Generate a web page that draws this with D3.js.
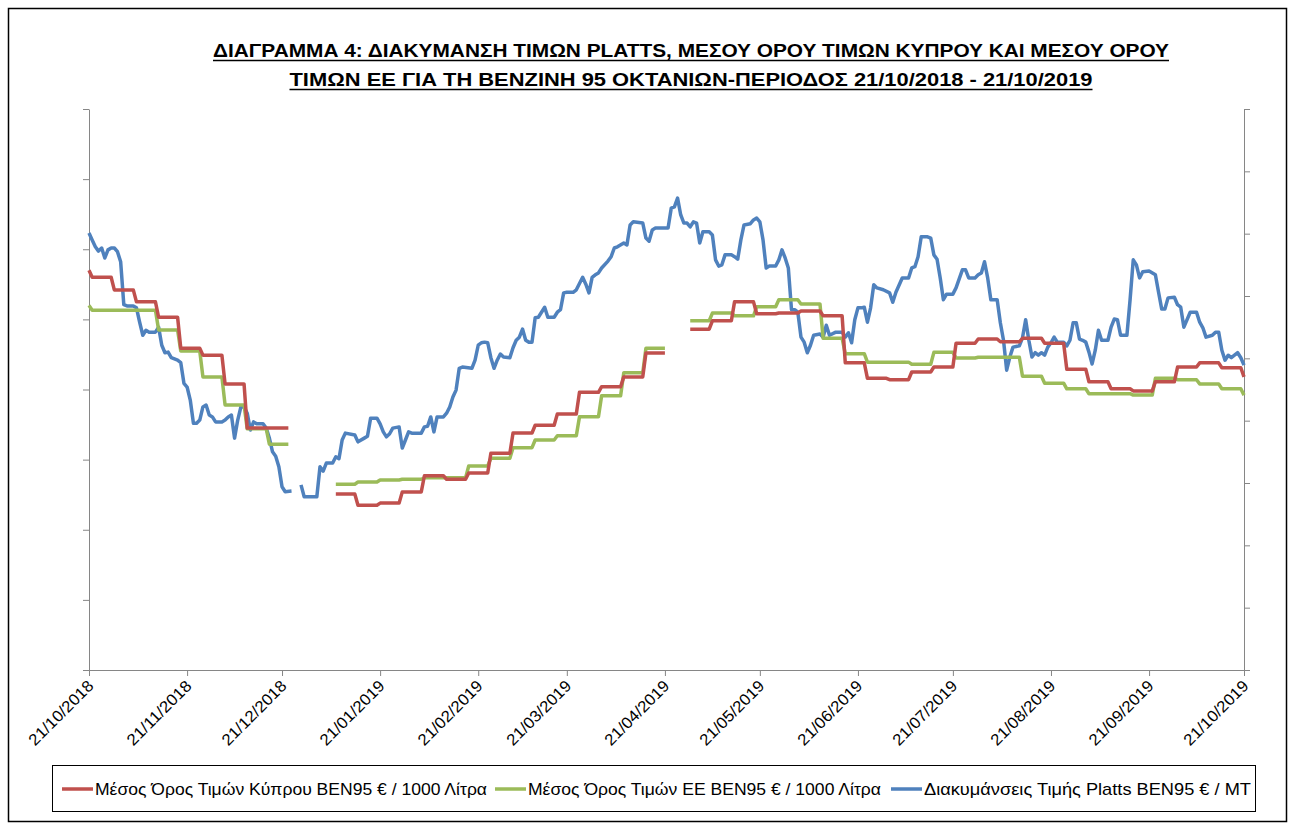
<!DOCTYPE html>
<html><head><meta charset="utf-8">
<script src="https://cdn.jsdelivr.net/npm/d3@7"></script>
<style>
body{margin:0;background:#fff;}
svg{display:block;font-family:"Liberation Sans",Arial,sans-serif;}
</style></head><body>
<svg id="chart" width="1291" height="827"></svg>
<script>
// ---------- DATA ----------
const titleLines = [
  "ΔΙΑΓΡΑΜΜΑ 4: ΔΙΑΚΥΜΑΝΣΗ ΤΙΜΩΝ PLATTS, ΜΕΣΟΥ ΟΡΟΥ ΤΙΜΩΝ ΚΥΠΡΟΥ ΚΑΙ ΜΕΣΟΥ ΟΡΟΥ",
  "ΤΙΜΩΝ ΕΕ ΓΙΑ ΤΗ ΒΕΝΖΙΝΗ 95 ΟΚΤΑΝΙΩΝ-ΠΕΡΙΟΔΟΣ 21/10/2018 - 21/10/2019"
];
const xTickDates = ["2018-10-21","2018-11-21","2018-12-21","2019-01-21","2019-02-21","2019-03-21",
  "2019-04-21","2019-05-21","2019-06-21","2019-07-21","2019-08-21","2019-09-21","2019-10-21"];
const leftTicks = [200,300,400,500,600,700,800,900,1000];
const rightTicks = [0,100,200,300,400,500,600,700,800,900];
const seriesNames = [
  "Μέσος Όρος Τιμών Κύπρου ΒΕΝ95 € / 1000 Λίτρα",
  "Μέσος Όρος Τιμών ΕΕ ΒΕΝ95 € / 1000 Λίτρα",
  "Διακυμάνσεις Τιμής Platts ΒΕΝ95 € / ΜΤ"
];
const seriesColors = ["#C0504D","#9BBB59","#4F81BD"];

// weekly average prices (€/1000 L), week start dates
const weekStarts = ["2018-10-21","2018-10-22","2018-10-29","2018-11-05","2018-11-12","2018-11-19","2018-11-26",
  "2018-12-03","2018-12-10","2018-12-17","2018-12-24","2018-12-31","2019-01-07","2019-01-14","2019-01-21",
  "2019-01-28","2019-02-04","2019-02-11","2019-02-18","2019-02-25","2019-03-04","2019-03-11","2019-03-18",
  "2019-03-25","2019-04-01","2019-04-08","2019-04-15","2019-04-22","2019-04-29","2019-05-06","2019-05-13",
  "2019-05-20","2019-05-27","2019-06-03","2019-06-10","2019-06-17","2019-06-24","2019-07-01","2019-07-08",
  "2019-07-15","2019-07-22","2019-07-29","2019-08-05","2019-08-12","2019-08-19","2019-08-26","2019-09-02",
  "2019-09-09","2019-09-16","2019-09-23","2019-09-30","2019-10-07","2019-10-14","2019-10-21"];
const cyprusAvg = [770,760,742,725,703,659,649,608,545,545,null,null,451,435,438,454,477,472,481,509,538,549,565,
  596,604,618,652,null,686,698,725,708,709,712,705,638,616,614,625,632,666,672,668,673,666,629,611,601,598,611,632,638,631,618];
const euAvg = [720,713,713,713,685,655,618,578,544,522,null,null,465,468,471,472,474,474,491,502,517,528,534,
  561,591,624,659,null,698,709,705,718,728,722,673,651,639,639,636,653,645,646,646,619,609,601,594,594,592,616,614,608,601,592];

// Platts quotes (€/MT): [days since 21/10/2018, price]
const plattsSeries = [[0,701],[1,690],[2,679],[3,672],[4,677],[5,661],[6,674],[7,677],[8,677],[9,671],[10,655],[11,586],[12,584],[14,584],[15,581],[16,558],[17,537],[18,545],[19,542],[21,542],[22,550],[23,521],[24,509],[25,510],[26,501],[28,497],[29,493],[30,460],[31,454],[32,433],[33,396],[34,396],[35,401],[36,422],[37,425],[38,409],[39,406],[40,398],[42,398],[43,401],[44,406],[45,409],[46,372],[47,401],[48,422],[49,422],[50,412],[51,385],[52,398],[53,395],[55,395],[56,388],[57,372],[58,350],[59,343],[60,326],[61,294],[62,286],[64,287],[65,null],[67,297],[68,278],[72,278],[73,326],[74,319],[75,332],[77,332],[78,342],[79,339],[80,369],[81,380],[84,377],[85,366],[87,372],[88,375],[89,404],[91,404],[92,395],[93,382],[94,374],[95,379],[96,388],[98,390],[99,356],[100,369],[101,382],[102,380],[105,380],[106,390],[107,391],[108,406],[109,382],[110,406],[112,406],[113,412],[114,422],[115,438],[116,449],[117,484],[118,486],[121,484],[122,497],[123,521],[124,525],[125,526],[126,525],[127,501],[128,484],[129,497],[130,507],[131,502],[133,501],[134,517],[135,529],[136,534],[137,547],[138,529],[139,526],[140,526],[141,565],[142,566],[143,574],[144,582],[145,566],[147,566],[148,574],[149,578],[150,605],[151,606],[153,606],[154,610],[156,630],[157,619],[158,605],[159,630],[160,634],[161,637],[162,645],[164,656],[165,663],[166,677],[167,679],[169,685],[170,682],[171,714],[172,719],[175,717],[176,693],[177,688],[178,706],[179,709],[183,709],[184,741],[185,743],[186,757],[187,730],[188,717],[189,717],[190,711],[191,719],[192,717],[193,685],[194,703],[196,703],[197,698],[198,658],[199,648],[200,650],[201,666],[203,666],[204,663],[205,659],[206,690],[207,714],[209,716],[210,722],[211,725],[212,719],[213,690],[214,645],[215,648],[217,648],[218,658],[219,674],[220,661],[221,645],[222,578],[223,578],[224,574],[225,534],[226,526],[227,509],[228,521],[229,537],[231,539],[232,534],[233,553],[234,537],[236,542],[238,542],[239,534],[240,541],[241,525],[242,562],[243,581],[244,581],[245,582],[246,558],[247,581],[248,618],[249,613],[251,610],[253,605],[254,590],[255,606],[257,629],[259,629],[260,645],[261,647],[262,663],[263,695],[265,695],[266,693],[267,666],[268,659],[269,629],[270,594],[271,603],[273,603],[274,613],[276,642],[277,642],[278,629],[280,629],[281,634],[282,637],[283,655],[284,629],[285,594],[287,594],[288,557],[289,529],[290,481],[291,502],[292,518],[294,520],[295,533],[296,562],[297,529],[298,502],[299,509],[300,505],[301,509],[302,505],[303,518],[304,525],[305,534],[306,526],[308,526],[309,520],[310,529],[311,557],[312,557],[313,531],[314,529],[315,526],[316,510],[317,491],[318,513],[319,545],[320,529],[322,529],[323,550],[324,563],[325,562],[326,537],[328,537],[329,594],[330,658],[331,650],[332,629],[333,639],[335,640],[337,634],[338,606],[339,579],[340,579],[341,597],[343,598],[344,586],[345,582],[346,550],[348,574],[350,574],[351,558],[352,549],[353,534],[355,537],[356,542],[357,542],[358,513],[359,497],[360,505],[361,501],[362,505],[363,509],[364,501],[365,489]];

// ---------- CHART ----------
const svg = d3.select("#chart");
const parse = d3.timeParse("%Y-%m-%d");
const fmt = d3.timeFormat("%d/%m/%Y");
const xStart = parse(xTickDates[0]), xEnd = parse(xTickDates[xTickDates.length-1]);
const plot = {left:89, right:1244, top:109, bottom:670};

const x = d3.scaleTime().domain([xStart,xEnd]).range([plot.left,plot.right]);
const yL = d3.scaleLinear().domain([leftTicks[0],leftTicks[leftTicks.length-1]]).range([plot.bottom,plot.top]);
const yR = d3.scaleLinear().domain([rightTicks[0],rightTicks[rightTicks.length-1]]).range([plot.bottom,plot.top]);

svg.append("rect").attr("x",8.5).attr("y",8.5).attr("width",1278).attr("height",813)
  .attr("fill","#fff").attr("stroke","#000").attr("stroke-width",1.5);

// title
const titleY = [57,86], titleLen = [956,803];
titleLines.forEach((t,i)=>{
  const cx = 691;
  svg.append("text").attr("x",cx).attr("y",titleY[i]).attr("text-anchor","middle")
    .attr("font-size",19).attr("font-weight","bold").attr("fill","#000")
    .attr("textLength",titleLen[i]).attr("lengthAdjust","spacingAndGlyphs").text(t);
  svg.append("line").attr("x1",cx-titleLen[i]/2).attr("x2",cx+titleLen[i]/2)
    .attr("y1",titleY[i]+3.5).attr("y2",titleY[i]+3.5).attr("stroke","#000").attr("stroke-width",1.5);
});

const axisColor = "#868686";
// x axis
const gx = svg.append("g").attr("transform",`translate(0,${plot.bottom})`)
  .call(d3.axisBottom(x).tickValues(xTickDates.map(parse)).tickFormat(fmt).tickSize(6).tickSizeOuter(0));
gx.select(".domain").attr("stroke",axisColor);
gx.selectAll(".tick line").attr("stroke",axisColor);
gx.selectAll(".tick text").attr("x",null).attr("y",null).attr("dy",null)
  .attr("transform","translate(5,17) rotate(-45)").attr("text-anchor","end")
  .attr("font-size",16).attr("textLength",84).attr("lengthAdjust","spacingAndGlyphs")
  .attr("fill","#000").attr("font-family","'Liberation Sans',Arial,sans-serif");

// left axis
const gyl = svg.append("g").attr("transform",`translate(${plot.left},0)`)
  .call(d3.axisLeft(yL).tickValues(leftTicks).tickFormat("").tickSize(6).tickSizeOuter(0));
gyl.select(".domain").attr("stroke",axisColor);
gyl.selectAll(".tick line").attr("stroke",axisColor);
// right axis
const gyr = svg.append("g").attr("transform",`translate(${plot.right},0)`)
  .call(d3.axisRight(yR).tickValues(rightTicks).tickFormat("").tickSize(6).tickSizeOuter(0));
gyr.select(".domain").attr("stroke",axisColor);
gyr.selectAll(".tick line").attr("stroke",axisColor);

// weekly step points
function weeklyPoints(vals){
  const pts = [];
  weekStarts.forEach((s,i)=>{
    const start = parse(s);
    let end = d3.timeDay.offset(start,6);
    if (i < weekStarts.length-1) {
      const next = parse(weekStarts[i+1]);
      if (end >= next) end = d3.timeDay.offset(next,-1);
    }
    if (end > xEnd) end = xEnd;
    pts.push({d:start, v:vals[i]});
    if (+end !== +start) pts.push({d:end, v:vals[i]});
  });
  return pts;
}
const lineL = d3.line().defined(p=>p.v!=null).x(p=>x(p.d)).y(p=>yL(p.v));
const lineR = d3.line().defined(p=>p.v!=null).x(p=>x(p.d)).y(p=>yR(p.v));

const plattsPts = plattsSeries.map(([day,v])=>({d:d3.timeDay.offset(xStart,day), v}));

const lw = 3.5;
svg.append("path").datum(plattsPts).attr("d",lineR).attr("fill","none")
  .attr("stroke",seriesColors[2]).attr("stroke-width",lw).attr("stroke-linejoin","round");
svg.append("path").datum(weeklyPoints(euAvg)).attr("d",lineL).attr("fill","none")
  .attr("stroke",seriesColors[1]).attr("stroke-width",lw).attr("stroke-linejoin","round");
svg.append("path").datum(weeklyPoints(cyprusAvg)).attr("d",lineL).attr("fill","none")
  .attr("stroke",seriesColors[0]).attr("stroke-width",lw).attr("stroke-linejoin","round");

// legend
svg.append("rect").attr("x",52.5).attr("y",765.5).attr("width",1203).attr("height",46)
  .attr("fill","#fff").attr("stroke","#000").attr("stroke-width",1);
const legX = [62,495,891], legTextLen = [392,353,327], legY = 789;
seriesNames.forEach((n,i)=>{
  svg.append("line").attr("x1",legX[i]).attr("x2",legX[i]+31).attr("y1",legY).attr("y2",legY)
    .attr("stroke",seriesColors[i]).attr("stroke-width",lw);
  svg.append("text").attr("x",legX[i]+33).attr("y",legY+6).attr("font-size",17).attr("fill","#000")
    .attr("textLength",legTextLen[i]).attr("lengthAdjust","spacingAndGlyphs").text(n);
});
</script>
</body></html>
